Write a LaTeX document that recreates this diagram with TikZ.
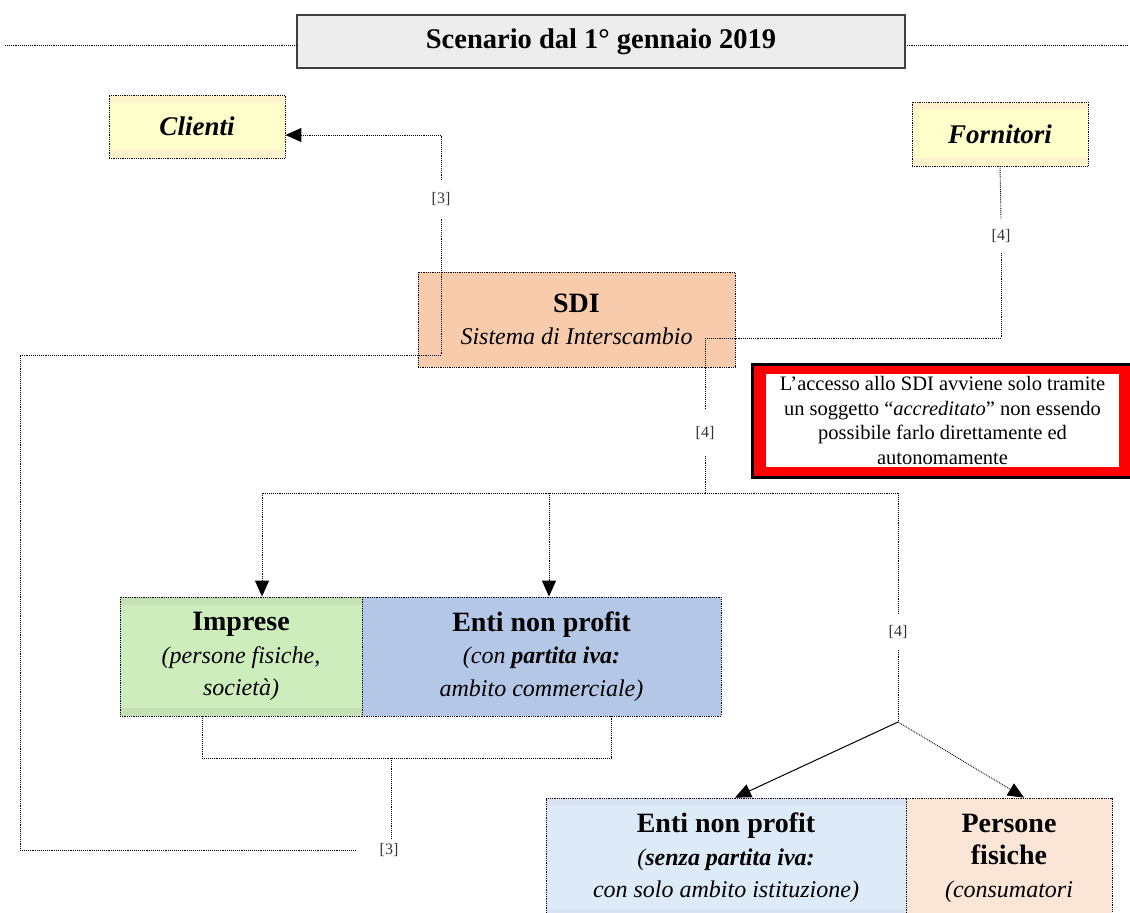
\documentclass[tikz,border=0pt]{standalone}
\usepackage{fontspec}
\setmainfont{Liberation Serif}
\usetikzlibrary{arrows.meta,positioning}

\definecolor{titlegray}{HTML}{EDEDED}
\definecolor{cliyellow}{HTML}{FFFFCC}
\definecolor{cliband}{HTML}{FFF2CC}
\definecolor{sdiorange}{HTML}{F8CBAD}
\definecolor{impgreen}{HTML}{CDEDBD}
\definecolor{impband}{HTML}{C5E0B4}
\definecolor{entiblue}{HTML}{B4C7E7}
\definecolor{entilight}{HTML}{DDEBF9}
\definecolor{entiband}{HTML}{DAE3F3}
\definecolor{persfill}{HTML}{FBE5D6}

\newcommand{\boxhead}{\fontsize{28}{32.5}\selectfont\bfseries\upshape}
\newcommand{\boxsub}{\fontsize{24}{32.5}\selectfont\itshape}

\tikzset{
  box/.style={draw, densely dotted, line width=0.8pt, align=center, inner sep=0pt, font=\boxsub},
  bands/.style={path picture={
    \fill[#1] (path picture bounding box.north west) rectangle ([yshift=-8pt]path picture bounding box.north east);
    \fill[#1] (path picture bounding box.south west) rectangle ([yshift=8pt]path picture bounding box.south east);}},
  actor/.style={box, minimum width=176pt, minimum height=63pt, fill=cliyellow, bands=cliband,
    font=\fontsize{27}{30}\selectfont\bfseries\itshape},
  link/.style={densely dotted, line width=0.9pt},
  tag/.style={font=\fontsize{16}{16}\selectfont, text=black!80, inner xsep=2pt, inner ysep=12pt},
  >={Triangle[length=16pt,width=14pt]}
}

\begin{document}
\begin{tikzpicture}[x=1pt,y=-1pt]
  \useasboundingbox (0,0) rectangle (1130,913);

  \node[draw=black!75, line width=2pt, fill=titlegray, minimum width=608pt, minimum height=53pt,
    font=\fontsize{28.5}{30}\selectfont\bfseries] (ttl) at (601,41.5) {Scenario dal 1° gennaio 2019};
  \coordinate (tl) at (5,45.5);
  \coordinate (tr) at (1128,45.5);
  \draw[link] (tl) -- (tl -| ttl.west);
  \draw[link] (tr) -- (tr -| ttl.east);

  \node[actor] (cli) at (197,126.5) {Clienti};
  \node[actor, minimum height=64pt] (forn) at (1000,134) {Fornitori};

  \node[box, fill=sdiorange, minimum width=317pt, minimum height=95pt] (sdi) at (576.5,319.5)
    {{\boxhead SDI}\\Sistema di Interscambio};

  % nota in rosso
  \node[draw, line width=3pt, fill=red, minimum width=380pt, minimum height=113pt] (frame) at (942.75,421) {};
  \node[fill=white, minimum width=353pt, minimum height=93pt, inner sep=0pt, align=center,
    font=\fontsize{20.5}{24.5}\selectfont] (note) at (942.5,420.5)
    {L’accesso allo SDI avviene solo tramite\\un soggetto “\textit{accreditato}” non essendo\\possibile farlo direttamente ed\\autonomamente};

  \node[box, fill=impgreen, bands=impband, minimum width=242pt, minimum height=119pt] (imp) at (241,656.5)
    {{\boxhead Imprese}\\(persone fisiche,\\società)};
  \node[box, fill=entiblue, minimum width=359pt, minimum height=119pt] (enp) at (541.5,656.5)
    {{\boxhead Enti non profit}\\(con \textbf{partita iva:}\\ambito commerciale)};

  \node[box, fill=entilight, bands=entiband, minimum width=360pt, minimum height=120pt] (ens) at (726,858)
    {{\boxhead Enti non profit}\\(\textbf{senza partita iva:}\\con solo ambito istituzione)};
  \node[box, fill=persfill, minimum width=206pt, minimum height=120pt] (per) at (1009,858)
    {{\boxhead Persone}\\{\boxhead fisiche}\\(consumatori};

  \node[tag] (lab3a) at (441,199) {[3]};
  \node[tag, inner xsep=24pt, inner ysep=5pt] (lab3b) at (389,850) {[3]};
  \node[tag, inner ysep=10pt] (lab4a) at (1001,236) {[4]};
  \node[tag, inner ysep=16pt] (lab4b) at (705,433) {[4]};
  \node[tag, inner ysep=11pt] (lab4c) at (898,632) {[4]};

  \coordinate (lc) at (20,355);
  \coordinate (m3) at (391,758);
  \coordinate (k4) at (705,338);
  \coordinate (k5) at (705,493);
  \coordinate (k6) at (898,493);
  \coordinate (k7) at (898,722);

  % ritorno [3]
  \draw[link] ([xshift=-39pt]imp.south) |- (m3) -| ([xshift=69.5pt]enp.south);
  \draw[link] (m3) -- (m3 |- lab3b.north);
  \draw[link] (lab3b.west) -| (lc) -| (lab3a.south);
  \draw[link,->] (lab3a.north) |- ([yshift=-8.5pt]cli.east);

  % invio [4]
  \draw[link] (forn.south) -- (lab4a.north);
  \draw[link] (lab4a.south) |- (k4);
  \draw[link] (k4) -- (lab4b.north);
  \draw[link] (lab4b.south) -- (k5);
  \draw[link,->] (k5) -| ([xshift=21pt]imp.north);
  \draw[link] (k5) -- (k6);
  \draw[link,->] ([xshift=7.5pt]enp.north |- k5) -- ([xshift=7.5pt]enp.north);
  \draw[link] (k6) -- (lab4c.north);
  \draw[link] (lab4c.south) -- (k7);
  \draw[->, line width=1pt] (k7) -- ([xshift=9pt]ens.north);
  \draw[link,->] (k7) -- ([xshift=15pt]per.north);
\end{tikzpicture}
\end{document}
